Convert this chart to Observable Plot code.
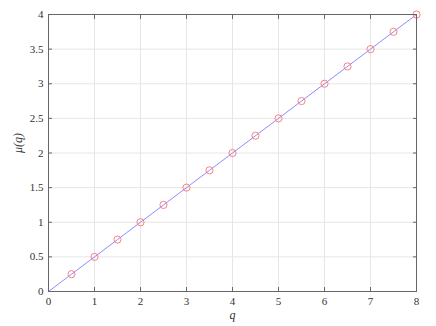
<!DOCTYPE html>
<html><head><meta charset="utf-8">
<script src="https://cdn.jsdelivr.net/npm/d3@7"></script>
<script src="https://cdn.jsdelivr.net/npm/@observablehq/plot@0.6"></script>
<style>body{margin:0;background:#fff} #chart svg text{font-family:"Liberation Serif","Times New Roman","DejaVu Serif",serif !important}</style>
</head><body><div id="chart"></div>
<script>
const qValues = [0.5,1,1.5,2,2.5,3,3.5,4,4.5,5,5.5,6,6.5,7,7.5,8];
const muValues = [0.25,0.5,0.75,1,1.25,1.5,1.75,2,2.25,2.5,2.75,3,3.25,3.5,3.75,4];
const lineQ = [0,0.5,1,1.5,2,2.5,3,3.5,4,4.5,5,5.5,6,6.5,7,7.5,8];
const lineMu = [0,0.25,0.5,0.75,1,1.25,1.5,1.75,2,2.25,2.5,2.75,3,3.25,3.5,3.75,4];
const xTicks = [0,1,2,3,4,5,6,7,8];
const yTicks = [0,0.5,1,1.5,2,2.5,3,3.5,4];
const xLabel = "q";
const yLabel = "μ(q)";

const pts = qValues.map((q,i)=>({q, mu: muValues[i]}));
const linePts = lineQ.map((q,i)=>({q, mu: lineMu[i]}));
const font = "'Liberation Serif','Times New Roman','DejaVu Serif',serif";
const axisColor = "#666";

const chart = Plot.plot({
  width: 436, height: 326,
  marginLeft: 48, marginRight: 20, marginTop: 14, marginBottom: 35,
  style: {fontFamily: font, fontSize: "11px", background: "#fff", color: "#333"},
  x: {domain: [0, 8]},
  y: {domain: [0, 4]},
  marks: [
    Plot.gridX(xTicks, {stroke: "#e6e6e6", strokeOpacity: 1}),
    Plot.gridY(yTicks, {stroke: "#e6e6e6", strokeOpacity: 1}),
    Plot.axisX(xTicks, {anchor: "bottom", tickSize: 0, tickPadding: 6, label: null, tickFormat: d => String(d), fill: "#333", fontFamily: font, fontSize: 11}),
    Plot.axisY(yTicks, {anchor: "left", tickSize: 0, tickPadding: 5, label: null, tickFormat: d => String(d), fill: "#333", fontFamily: font, fontSize: 11}),
    Plot.axisX(xTicks, {anchor: "bottom", tickSize: -4, text: null, label: null, stroke: axisColor}),
    Plot.axisX(xTicks, {anchor: "top", tickSize: -4, text: null, label: null, stroke: axisColor}),
    Plot.axisY(yTicks, {anchor: "left", tickSize: -4, text: null, label: null, stroke: axisColor}),
    Plot.axisY(yTicks, {anchor: "right", tickSize: -4, text: null, label: null, stroke: axisColor}),
    Plot.line(linePts, {x: "q", y: "mu", stroke: "#8c8cff", strokeWidth: 1}),
    Plot.dot(pts, {x: "q", y: "mu", r: 3.6, stroke: "#ff8080", strokeWidth: 1, fill: "none"}),
    Plot.frame({stroke: axisColor, strokeWidth: 1}),
    Plot.text([xLabel], {frameAnchor: "bottom", dy: 27, text: d => d, fontStyle: "italic", fontSize: 12, fontFamily: font, fill: "#333"}),
    Plot.text([yLabel], {frameAnchor: "left", dx: -30, rotate: -90, text: d => d, fontStyle: "italic", fontSize: 12, fontFamily: font, fill: "#333"})
  ]
});
document.getElementById("chart").appendChild(chart);
</script>
</body></html>
